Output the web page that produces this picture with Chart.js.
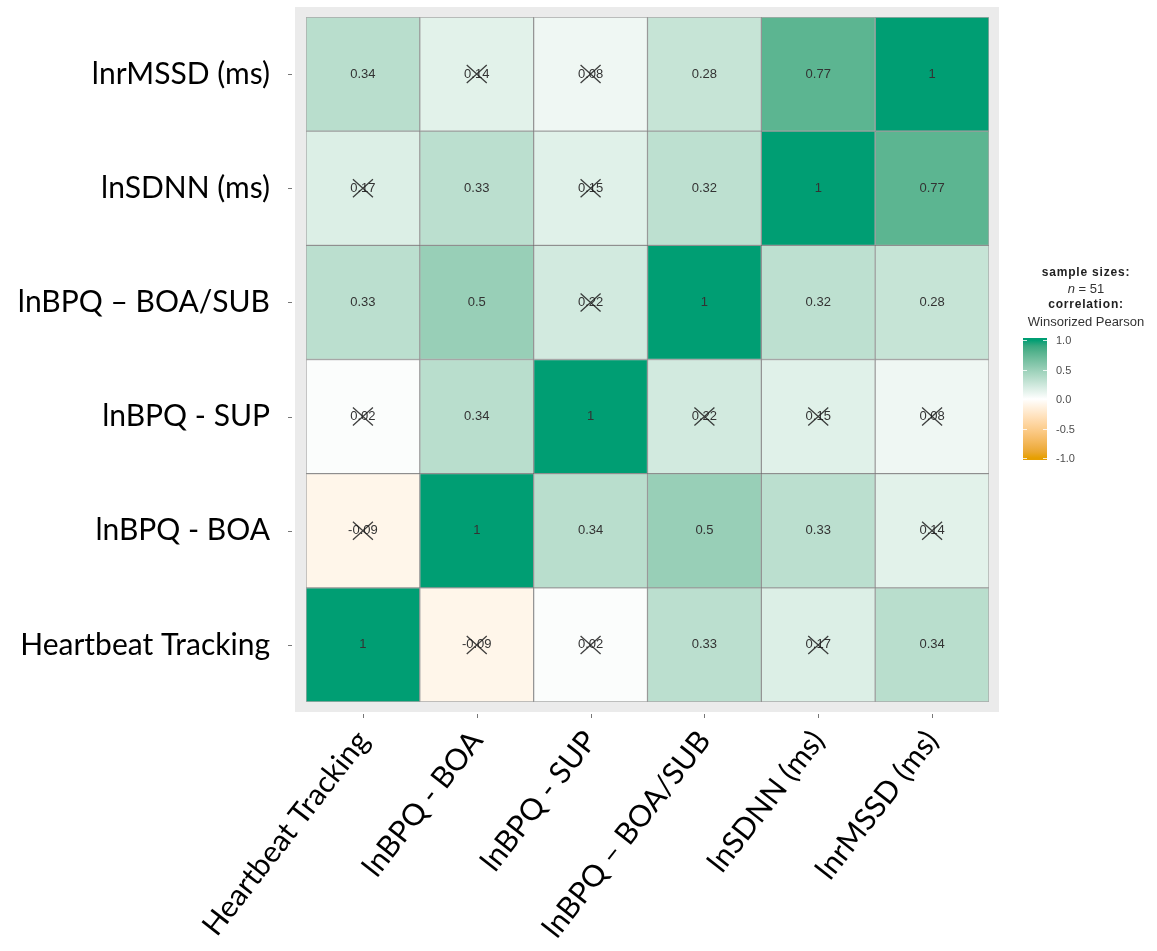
<!DOCTYPE html>
<html>
<head>
<meta charset="utf-8">
<script src="https://cdn.jsdelivr.net/npm/chart.js@4.4.1/dist/chart.umd.min.js"></script>
<style>
  body { margin: 0; background: #fff; }
</style>
</head>
<body>
<canvas id="corrChart" width="1157" height="951"></canvas>
<script>
"use strict";

// variables, x runs left to right, y runs bottom to top
const variables = ["Heartbeat Tracking", "lnBPQ - BOA", "lnBPQ - SUP", "lnBPQ \u2013 BOA/SUB", "lnSDNN (ms)", "lnrMSSD (ms)"];

// winsorized pearson r, one row per variable (same order as above)
const corrHT     = [1, -0.09, 0.02, 0.33, 0.17, 0.34];
const corrBOA    = [-0.09, 1, 0.34, 0.5, 0.33, 0.14];
const corrSUP    = [0.02, 0.34, 1, 0.22, 0.15, 0.08];
const corrBOASUB = [0.33, 0.5, 0.22, 1, 0.32, 0.28];
const corrSDNN   = [0.17, 0.33, 0.15, 0.32, 1, 0.77];
const corrRMSSD  = [0.34, 0.14, 0.08, 0.28, 0.77, 1];
const corr = [corrHT, corrBOA, corrSUP, corrBOASUB, corrSDNN, corrRMSSD];

// 1 = not significant, gets crossed out
const nonSig = [
  [0, 1, 1, 0, 1, 0],
  [1, 0, 0, 0, 0, 1],
  [1, 0, 0, 1, 1, 1],
  [0, 0, 1, 0, 0, 0],
  [1, 0, 1, 0, 0, 0],
  [0, 1, 1, 0, 0, 0]
];

const sampleSize = 51;
const legendTicks = [1.0, 0.5, 0.0, -0.5, -1.0];

const lowColor = "#E69F00", midColor = "#FFFFFF", highColor = "#009E73";

// --- colour helpers, gradient is interpolated in Lab like ggplot does ---
function hexToRgb(h) { return [1, 3, 5].map(i => parseInt(h.substr(i, 2), 16)); }
function toLin(c) { c /= 255; return c <= 0.04045 ? c / 12.92 : Math.pow((c + 0.055) / 1.055, 2.4); }
function fromLin(c) {
  c = c <= 0.0031308 ? 12.92 * c : 1.055 * Math.pow(c, 1 / 2.4) - 0.055;
  return Math.round(Math.max(0, Math.min(1, c)) * 255);
}
function rgbToLab(rgb) {
  const [r, g, b] = rgb.map(toLin);
  const x = (r * 0.4124 + g * 0.3576 + b * 0.1805) / 0.95047;
  const y = r * 0.2126 + g * 0.7152 + b * 0.0722;
  const z = (r * 0.0193 + g * 0.1192 + b * 0.9505) / 1.08883;
  const f = t => t > 0.008856 ? Math.cbrt(t) : 7.787 * t + 16 / 116;
  return [116 * f(y) - 16, 500 * (f(x) - f(y)), 200 * (f(y) - f(z))];
}
function labToRgb(lab) {
  const fy = (lab[0] + 16) / 116, fx = fy + lab[1] / 500, fz = fy - lab[2] / 200;
  const fi = t => t * t * t > 0.008856 ? t * t * t : (t - 16 / 116) / 7.787;
  const x = fi(fx) * 0.95047, y = fi(fy), z = fi(fz) * 1.08883;
  const r = x * 3.2406 - y * 1.5372 - z * 0.4986;
  const g = -x * 0.9689 + y * 1.8758 + z * 0.0415;
  const b = x * 0.0557 - y * 0.2040 + z * 1.0570;
  return [r, g, b].map(fromLin);
}
const labLow = rgbToLab(hexToRgb(lowColor));
const labMid = rgbToLab(hexToRgb(midColor));
const labHigh = rgbToLab(hexToRgb(highColor));

function fillFor(v) {
  const end = v >= 0 ? labHigh : labLow;
  const t = Math.min(1, Math.abs(v));
  const rgb = labToRgb(labMid.map((m, i) => m + (end[i] - m) * t));
  return `rgb(${rgb[0]},${rgb[1]},${rgb[2]})`;
}

// --- plugins ---
const panelBackground = {
  id: "panelBackground",
  beforeDatasetsDraw(chart) {
    const { ctx, chartArea: a } = chart;
    ctx.save();
    ctx.fillStyle = "#EBEBEB";
    ctx.fillRect(a.left - 11, a.top - 10, a.right - a.left + 21, a.bottom - a.top + 20);
    ctx.restore();
  }
};

const cellText = {
  id: "cellText",
  afterDatasetsDraw(chart) {
    const ctx = chart.ctx;
    ctx.save();
    ctx.font = "13px 'Liberation Sans', Arial, sans-serif";
    ctx.textAlign = "center";
    ctx.textBaseline = "middle";
    chart.data.datasets.forEach((ds, ri) => {
      chart.getDatasetMeta(ri).data.forEach((bar, ci) => {
        const p = bar.getProps(["x", "y", "base"], true);
        const cy = (p.y + p.base) / 2;
        ctx.fillStyle = "#333";
        ctx.fillText(String(corr[ri][ci]), p.x, cy);
        if (nonSig[ri][ci]) {
          ctx.strokeStyle = "rgba(30,30,30,0.85)";
          ctx.lineWidth = 1.3;
          ctx.beginPath();
          ctx.moveTo(p.x - 10, cy - 9); ctx.lineTo(p.x + 10, cy + 9);
          ctx.moveTo(p.x + 10, cy - 9); ctx.lineTo(p.x - 10, cy + 9);
          ctx.stroke();
        }
      });
    });
    ctx.restore();
  }
};

const axisTicks = {
  id: "axisTicks",
  afterDraw(chart) {
    const { ctx, chartArea: a, scales } = chart;
    ctx.save();
    ctx.strokeStyle = "#777";
    ctx.lineWidth = 1;
    ctx.beginPath();
    variables.forEach((_, i) => {
      const y = Math.round(scales.y.getPixelForValue(i + 0.5)) + 0.5;
      ctx.moveTo(a.left - 18, y); ctx.lineTo(a.left - 14, y);
      const x = Math.round(scales.x.getPixelForValue(i)) + 0.5;
      ctx.moveTo(x, a.bottom + 12); ctx.lineTo(x, a.bottom + 16);
    });
    ctx.stroke();
    ctx.restore();
  }
};

const colorLegend = {
  id: "colorLegend",
  afterDraw(chart) {
    const { ctx, chartArea: a } = chart;
    const cx = a.right + 97;
    const barL = a.right + 34, barW = 24;
    const y1 = 340, yM1 = 458;
    const yOf = v => y1 + (1 - v) / 2 * (yM1 - y1);
    const reg = "13px 'Liberation Sans', Arial, sans-serif";
    ctx.save();
    ctx.textAlign = "center";
    ctx.textBaseline = "middle";
    ctx.fillStyle = "#222";
    ctx.font = "bold 12px 'Liberation Sans', Arial, sans-serif";
    ctx.letterSpacing = "0.8px";
    ctx.fillText("sample sizes:", cx, 273);
    ctx.fillText("correlation:", cx, 305);
    ctx.letterSpacing = "0px";
    ctx.font = reg;
    ctx.fillStyle = "#333";
    ctx.fillText("Winsorized Pearson", cx, 322);
    // "n = 51" with italic n
    ctx.font = "italic " + reg;
    const nW = ctx.measureText("n").width;
    ctx.font = reg;
    const restTxt = " = " + sampleSize;
    const rW = ctx.measureText(restTxt).width;
    ctx.textAlign = "left";
    const sx = cx - (nW + rW) / 2;
    ctx.font = "italic " + reg;
    ctx.fillText("n", sx, 289);
    ctx.font = reg;
    ctx.fillText(restTxt, sx + nW, 289);

    // gradient bar
    const grad = ctx.createLinearGradient(0, yOf(1), 0, yOf(-1));
    for (let k = 0; k <= 20; k++) {
      const v = 1 - k / 10;
      grad.addColorStop(k / 20, fillFor(v));
    }
    ctx.fillStyle = grad;
    ctx.fillRect(barL, yOf(1) - 2, barW, yOf(-1) - yOf(1) + 4);
    ctx.strokeStyle = "rgba(255,255,255,0.8)";
    ctx.beginPath();
    legendTicks.forEach(v => {
      const y = Math.round(yOf(v)) + 0.5;
      ctx.moveTo(barL, y); ctx.lineTo(barL + 4, y);
      ctx.moveTo(barL + barW - 4, y); ctx.lineTo(barL + barW, y);
    });
    ctx.stroke();
    ctx.font = "11px 'Liberation Sans', Arial, sans-serif";
    ctx.fillStyle = "#4D4D4D";
    ctx.textAlign = "left";
    legendTicks.forEach(v => ctx.fillText(v.toFixed(1), barL + barW + 9, yOf(v) + 1));
    ctx.restore();
  }
};

// one dataset per row, each cell is a floating bar [row, row + 1]
const datasets = corr.map((row, ri) => ({
  label: variables[ri],
  data: variables.map(() => [ri, ri + 1]),
  backgroundColor: row.map(fillFor),
  borderColor: "rgba(0,0,0,0.28)",
  borderWidth: 1,
  borderSkipped: false,
  grouped: false,
  barPercentage: 1,
  categoryPercentage: 1
}));

const labelFont = { family: "Lato, 'Open Sans', sans-serif", size: 30 };

new Chart(document.getElementById("corrChart"), {
  type: "bar",
  data: { labels: variables, datasets: datasets },
  options: {
    responsive: false,
    animation: false,
    devicePixelRatio: 1,
    layout: { padding: { top: 17, right: 168, left: 0, bottom: 0 } },
    plugins: { legend: { display: false }, tooltip: { enabled: false } },
    scales: {
      x: {
        type: "category",
        offset: true,
        grid: { display: false, drawTicks: false },
        border: { display: false },
        ticks: { font: labelFont, color: "#000", minRotation: 52, maxRotation: 52, padding: 22, autoSkip: false },
        afterFit(s) {
          s.height = 249;
          s.paddingLeft = 0; s.paddingRight = 0;
        }
      },
      y: {
        type: "linear",
        min: 0,
        max: 6,
        grid: { display: false, drawTicks: false },
        border: { display: false },
        afterBuildTicks(s) { s.ticks = variables.map((_, i) => ({ value: i + 0.5 })); },
        ticks: {
          font: labelFont,
          color: "#000",
          padding: 36,
          callback: (v, i) => variables[i]
        },
        afterFit(s) {
          s.width = 306;
          s.paddingTop = 0; s.paddingBottom = 0;
        }
      }
    }
  },
  plugins: [panelBackground, cellText, axisTicks, colorLegend]
});
</script>
</body>
</html>
